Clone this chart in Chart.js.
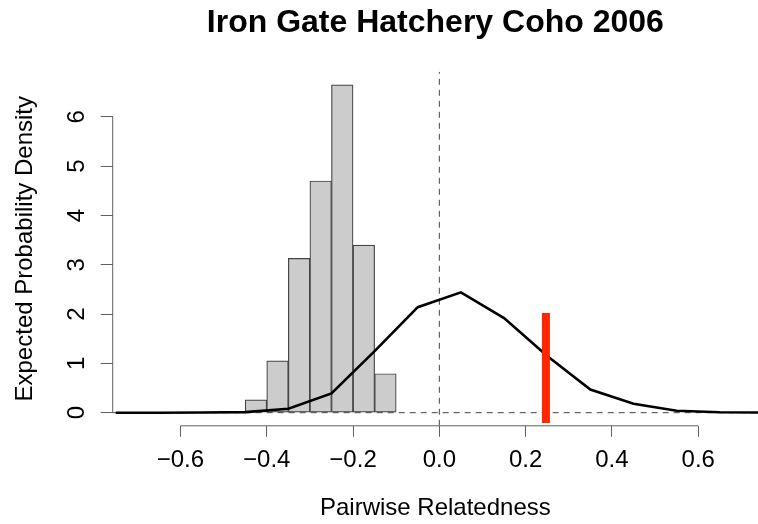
<!DOCTYPE html>
<html>
<head>
<meta charset="utf-8">
<title>Iron Gate Hatchery Coho 2006</title>
<script src="https://cdn.jsdelivr.net/npm/chart.js@4.4.1/dist/chart.umd.min.js"></script>
<style>
  html, body { margin: 0; padding: 0; background: #fff; }
</style>
</head>
<body>
<canvas id="chart" width="758" height="524"></canvas>
<script>
/*global Chart, document*/
(function (document, Chart) {
  "use strict";

  // histogram of pairwise relatedness (bin mid points, width 0.05)
  var binCenters = [-0.425, -0.375, -0.325, -0.275, -0.225, -0.175, -0.125];
  var binDensity = [0.26, 1.05, 3.13, 4.70, 6.65, 3.40, 0.79];

  // expected density curve
  var curveX = [-0.75, -0.65, -0.55, -0.45, -0.35, -0.25, -0.15, -0.05,
    0.05, 0.15, 0.25, 0.35, 0.45, 0.55, 0.65, 0.75];
  var curveY = [0.0, 0.0, 0.003, 0.012, 0.08, 0.39, 1.25, 2.14,
    2.44, 1.92, 1.15, 0.47, 0.18, 0.04, 0.01, 0.002];

  // observed value (red mark)
  var observedX = [0.247, 0.247];
  var observedY = [-0.21, 2.02];

  var xTicks = [-0.6, -0.4, -0.2, 0.0, 0.2, 0.4, 0.6];
  var yTicks = [0, 1, 2, 3, 4, 5, 6];

  var xMin = -0.757, xMax = 0.7385;
  var yMin = -0.266, yMax = 6.916;

  var FONT = "'Liberation Sans', Arial, Helvetica, sans-serif";
  var AXIS_GREY = "#606060";

  function pairs(xs, ys) {
    var i, out = [];
    for (i = 0; i < xs.length; i += 1) {
      out.push({x: xs[i], y: ys[i]});
    }
    return out;
  }

  function fmt(v) {
    var s = Math.abs(v).toFixed(1);
    return v < 0 ? "\u2212" + s : s;
  }

  // R style axis lines: only from first to last tick
  var axisLines = {
    id: "axisLines",
    afterDraw: function (chart) {
      var ctx = chart.ctx,
        xs = chart.scales.x,
        ys = chart.scales.y,
        area = chart.chartArea;
      ctx.save();
      ctx.strokeStyle = AXIS_GREY;
      ctx.lineWidth = 1;
      ctx.beginPath();
      ctx.moveTo(xs.getPixelForValue(xTicks[0]), area.bottom);
      ctx.lineTo(xs.getPixelForValue(xTicks[xTicks.length - 1]), area.bottom);
      ctx.moveTo(area.left, ys.getPixelForValue(yTicks[0]));
      ctx.lineTo(area.left, ys.getPixelForValue(yTicks[yTicks.length - 1]));
      ctx.stroke();
      ctx.restore();
    }
  };

  Chart.defaults.font.family = FONT;
  Chart.defaults.color = "#000";

  new Chart(document.getElementById("chart"), {
    type: "bar",
    data: {
      datasets: [
        {
          type: "line",
          label: "observed",
          data: pairs(observedX, observedY),
          borderColor: "rgb(255, 38, 0)",
          borderWidth: 8,
          borderCapStyle: "butt",
          pointRadius: 0,
          fill: false
        },
        {
          type: "line",
          label: "expected",
          data: pairs(curveX, curveY),
          borderColor: "#000",
          borderWidth: 2.6,
          pointRadius: 0,
          tension: 0,
          fill: false
        },
        {
          type: "line",
          label: "zero x",
          data: pairs([0, 0], [yMin, yMax]),
          borderColor: "#444",
          borderWidth: 1,
          borderDash: [6, 5],
          pointRadius: 0,
          fill: false
        },
        {
          type: "line",
          label: "zero y",
          data: pairs([xMin, xMax], [0, 0]),
          borderColor: "#444",
          borderWidth: 1,
          borderDash: [6, 5],
          pointRadius: 0,
          fill: false
        },
        {
          type: "bar",
          label: "histogram",
          data: pairs(binCenters, binDensity),
          backgroundColor: "#cccccc",
          borderColor: "#444",
          borderWidth: 1.2,
          borderSkipped: false,
          barPercentage: 1.0,
          categoryPercentage: 1.0
        }
      ]
    },
    options: {
      responsive: false,
      animation: false,
      devicePixelRatio: 1,
      layout: {padding: 0},
      plugins: {
        legend: {display: false},
        tooltip: {enabled: false},
        title: {
          display: true,
          text: "Iron Gate Hatchery Coho 2006",
          fullSize: false,
          color: "#000",
          font: {size: 32, weight: "bold", family: FONT},
          padding: {top: 4, bottom: 29.3}
        }
      },
      scales: {
        x: {
          type: "linear",
          min: xMin,
          max: xMax,
          offset: false,
          border: {display: false},
          grid: {
            drawOnChartArea: false,
            drawTicks: true,
            tickLength: 11,
            color: AXIS_GREY,
            offset: false
          },
          ticks: {
            autoSkip: false,
            maxRotation: 0,
            padding: 9,
            font: {size: 24},
            color: "#000",
            callback: function (v) {
              return fmt(v);
            }
          },
          afterBuildTicks: function (axis) {
            axis.ticks = xTicks.map(function (v) { return {value: v}; });
          },
          afterFit: function (axis) {
            axis.height = 98.2;
          },
          title: {
            display: true,
            text: "Pairwise Relatedness",
            color: "#000",
            font: {size: 24},
            padding: {top: 0, bottom: 1}
          }
        },
        y: {
          type: "linear",
          min: yMin,
          max: yMax,
          border: {display: false},
          grid: {
            drawOnChartArea: false,
            drawTicks: true,
            tickLength: 12,
            color: AXIS_GREY
          },
          ticks: {
            minRotation: 90,
            maxRotation: 90,
            crossAlign: "center",
            padding: 17,
            font: {size: 24},
            color: "#000",
            callback: function (v) {
              return String(v);
            }
          },
          afterBuildTicks: function (axis) {
            axis.ticks = yTicks.map(function (v) { return {value: v}; });
          },
          afterFit: function (axis) {
            axis.width = 112.7;
          },
          title: {
            display: true,
            text: "Expected Probability Density",
            color: "#000",
            font: {size: 24},
            padding: {top: 11, bottom: 0}
          }
        }
      }
    },
    plugins: [axisLines]
  });
}(document, Chart));
</script>
</body>
</html>
